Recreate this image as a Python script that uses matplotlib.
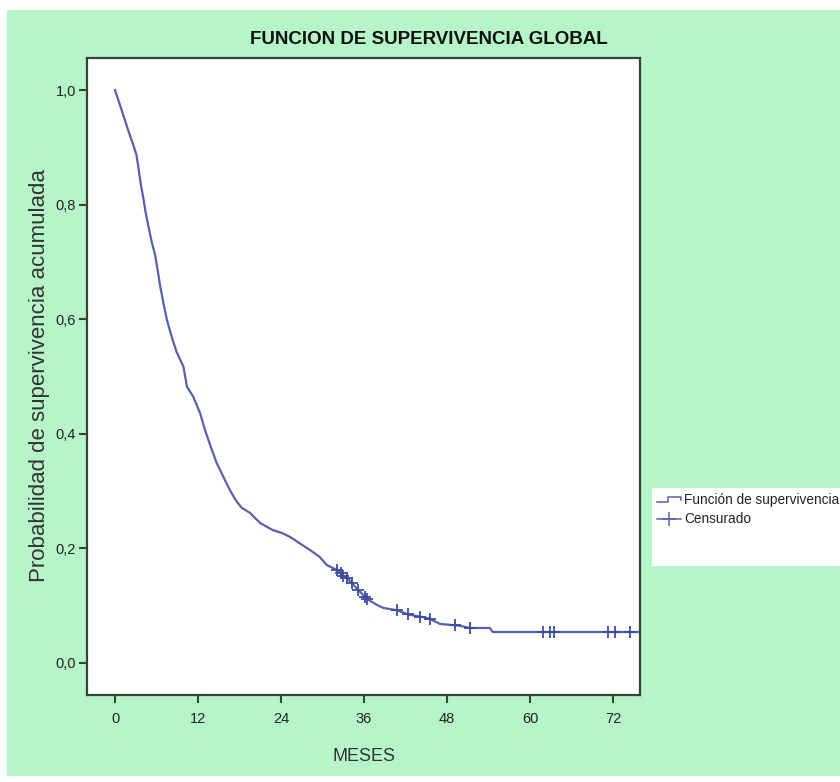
import matplotlib
matplotlib.use("Agg")
import matplotlib.pyplot as plt
import numpy as np
from matplotlib.patches import Rectangle
from matplotlib.lines import Line2D
from matplotlib import font_manager

# ---- data ----
curve_times = [0, 0.72, 1.2, 1.9, 2.65, 3.1, 3.4, 3.75, 4.1, 4.4, 4.8, 5.3, 5.8,
               6.2, 6.5, 7.0, 7.5, 8.2, 8.9, 9.9, 10.4, 11.3, 12.3, 13.0, 14.0,
               14.7, 15.9, 16.6, 17.4, 18.3, 19.5, 21.0, 22.8, 24.3, 25.3, 26.8,
               28.2, 29.6, 30.6, 32.1, 33.0, 33.8, 34.8, 35.6, 36.4, 37.9, 38.8,
               40.7, 42.6, 44.5, 45.5, 47.0, 49.8, 51.3, 54.2, 54.6, 75.9]
curve_surv = [1.0, 0.974, 0.956, 0.930, 0.904, 0.887, 0.863, 0.834, 0.811, 0.788,
              0.764, 0.735, 0.712, 0.683, 0.660, 0.628, 0.599, 0.569, 0.543, 0.517,
              0.482, 0.465, 0.436, 0.407, 0.372, 0.349, 0.319, 0.302, 0.285, 0.271,
              0.262, 0.244, 0.232, 0.226, 0.220, 0.208, 0.197, 0.185, 0.171, 0.162,
              0.152, 0.145, 0.132, 0.122, 0.112, 0.101, 0.096, 0.092, 0.084, 0.080,
              0.077, 0.068, 0.065, 0.061, 0.061, 0.054, 0.054]
censor_times = [32.1, 32.6, 33.0, 33.5, 34.2, 35.2, 36.1, 36.4, 40.7, 42.4,
                44.1, 45.5, 49.2, 51.3, 61.9, 62.9, 63.5, 71.3, 72.3, 74.5]
x_ticks = [0, 12, 24, 36, 48, 60, 72]
y_ticks = [0.0, 0.2, 0.4, 0.6, 0.8, 1.0]
y_ticklabels = ["0,0", "0,2", "0,4", "0,6", "0,8", "1,0"]
title = "FUNCION DE SUPERVIVENCIA GLOBAL"
xlabel = "MESES"
ylabel = "Probabilidad de supervivencia acumulada"
legend_labels = ["Función de supervivencia", "Censurado"]

censor_surv = np.interp(censor_times, curve_times, curve_surv)

names = {f.name for f in font_manager.fontManager.ttflist}
narrow = "Liberation Sans Narrow" if "Liberation Sans Narrow" in names else "Liberation Sans"
plt.rcParams['font.family'] = [narrow, 'DejaVu Sans']

W, H = 840, 782
fig = plt.figure(figsize=(W / 100, H / 100), dpi=100)
fig.patch.set_facecolor("white")

green = "#b6f5c8"
fig.patches.append(Rectangle((7 / W, 1 - 776 / H), (W - 7) / W, (776 - 10) / H,
                             transform=fig.transFigure, facecolor=green,
                             edgecolor="none", zorder=-10))

ax = fig.add_axes([87 / W, 1 - 695 / H, (640 - 87) / W, (695 - 58) / H])
ax.set_zorder(1)
ax.set_facecolor("white")
line_color = "#5862aa"
ax.plot(curve_times, curve_surv, color=line_color, lw=1.6, solid_joinstyle="round")
ax.plot(censor_times, censor_surv, linestyle="none", marker="+", ms=9,
        mew=1.3, color="#3e4ca0")

ax.set_xlim(-4.05, 75.9)
ax.set_ylim(-0.056, 1.056)
ax.set_xticks(x_ticks)
ax.set_xticklabels([str(v) for v in x_ticks])
ax.set_yticks(y_ticks)
ax.set_yticklabels(y_ticklabels)
spine_color = "#354535"
for sp in ax.spines.values():
    sp.set_color(spine_color)
    sp.set_linewidth(1.6)
ax.tick_params(axis="both", direction="out", length=6, width=1.5,
               color=spine_color, labelsize=10.5, labelcolor="#222222")
ax.tick_params(axis="x", pad=6)
ax.tick_params(axis="y", pad=2)

ax.set_xlabel(xlabel, fontsize=13, color="#333333", labelpad=16)
ax.set_ylabel(ylabel, fontsize=16, color="#333333", family="Liberation Sans",
              va="center")
ax.yaxis.set_label_coords((40 - 87) / 553, 0.502)

fig.text(429 / W, 1 - 40 / H, title, ha="center", va="center", fontsize=13.5,
         fontweight="bold", color="#111111", zorder=2)

# legend box
fig.patches.append(Rectangle((652 / W, 1 - 566 / H), (W - 652) / W, (566 - 488) / H,
                             transform=fig.transFigure, facecolor="white",
                             edgecolor="none", zorder=1))
def fx(px):
    return px / W
def fy(py):
    return 1 - py / H
icon = Line2D([fx(657), fx(668), fx(668), fx(681), fx(681)],
              [fy(502), fy(502), fy(497), fy(497), fy(500)],
              transform=fig.transFigure, color=line_color, lw=1.1, zorder=2)
fig.lines.append(icon)
fig.lines.append(Line2D([fx(657), fx(681)], [fy(519), fy(519)],
                        transform=fig.transFigure, color=line_color, lw=1.1, zorder=2))
fig.lines.append(Line2D([fx(669)], [fy(519)], transform=fig.transFigure,
                        marker="+", ms=10, mew=1.1, color=line_color, zorder=2))
fig.text(fx(684), fy(500), legend_labels[0], ha="left", va="center", fontsize=9.8,
         color="#222222", zorder=2)
fig.text(fx(684), fy(519), legend_labels[1], ha="left", va="center", fontsize=9.8,
         color="#222222", zorder=2)

fig.savefig("out.png", dpi=100)
